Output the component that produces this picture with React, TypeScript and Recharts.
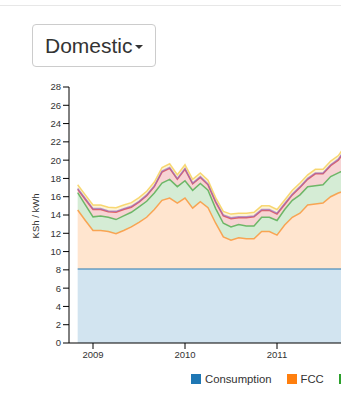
import { AreaChart, Area, XAxis, YAxis } from 'recharts';

// monthly tariff components, KSh per kWh (stacked)
const months = [
  '2008-11', '2008-12',
  '2009-01', '2009-02', '2009-03', '2009-04', '2009-05', '2009-06',
  '2009-07', '2009-08', '2009-09', '2009-10', '2009-11', '2009-12',
  '2010-01', '2010-02', '2010-03', '2010-04', '2010-05', '2010-06',
  '2010-07', '2010-08', '2010-09', '2010-10', '2010-11', '2010-12',
  '2011-01', '2011-02', '2011-03', '2011-04', '2011-05', '2011-06',
  '2011-07', '2011-08', '2011-09', '2011-10',
];

const consumption = [
  8.1, 8.1,
  8.1, 8.1, 8.1, 8.1, 8.1, 8.1, 8.1, 8.1, 8.1, 8.1, 8.1, 8.1,
  8.1, 8.1, 8.1, 8.1, 8.1, 8.1, 8.1, 8.1, 8.1, 8.1, 8.1, 8.1,
  8.1, 8.1, 8.1, 8.1, 8.1, 8.1, 8.1, 8.1, 8.1, 8.1,
];
const fcc = [
  6.45, 5.3,
  4.2, 4.2, 4.1, 3.85, 4.2, 4.6, 5.1, 5.65, 6.5, 7.5, 7.75, 7.2,
  7.75, 6.65, 7.35, 6.7, 5.0, 3.5, 3.15, 3.4, 3.3, 3.3, 4.1, 4.1,
  3.7, 4.8, 5.65, 6.1, 7.0, 7.1, 7.2, 7.9, 8.3, 8.6,
];
const ferfa = [
  1.9, 1.7,
  1.5, 1.6, 1.55, 1.55, 1.6, 1.6, 1.7, 1.75, 1.8, 1.9, 2.05, 1.8,
  1.9, 1.95, 2.0, 1.9, 1.6, 1.5, 1.45, 1.45, 1.4, 1.4, 1.55, 1.55,
  1.6, 1.7, 1.85, 2.0, 2.0, 2.0, 2.0, 2.2, 2.2, 2.3,
];
const inflation = [
  0.35, 0.6,
  0.8, 0.7, 0.6, 0.8, 0.7, 0.55, 0.5, 0.6, 0.7, 1.2, 1.2, 0.8,
  1.25, 0.7, 0.65, 0.6, 0.7, 0.8, 0.9, 0.75, 0.9, 1.0, 0.75, 0.75,
  0.7, 0.55, 0.6, 0.8, 0.8, 1.3, 1.2, 1.2, 1.4, 2.2,
];
const wrma = [
  0.1, 0.1,
  0.1, 0.1, 0.1, 0.1, 0.1, 0.1, 0.1, 0.1, 0.1, 0.1, 0.1, 0.1,
  0.1, 0.1, 0.1, 0.1, 0.1, 0.1, 0.1, 0.1, 0.1, 0.1, 0.1, 0.1,
  0.1, 0.1, 0.1, 0.1, 0.1, 0.1, 0.1, 0.1, 0.1, 0.1,
];
const ercLevy = [
  0.4, 0.4,
  0.4, 0.4, 0.4, 0.4, 0.4, 0.4, 0.4, 0.4, 0.4, 0.4, 0.4, 0.4,
  0.4, 0.4, 0.4, 0.4, 0.4, 0.4, 0.4, 0.4, 0.4, 0.4, 0.4, 0.4,
  0.4, 0.4, 0.4, 0.4, 0.4, 0.4, 0.4, 0.4, 0.4, 0.4,
];

const yTicks = [0, 2, 4, 6, 8, 10, 12, 14, 16, 18, 20, 22, 24, 26, 28];
const xTicks = [2009, 2010, 2011];

const series = [
  { key: 'consumption', name: 'Consumption', color: '#1f77b4', values: consumption },
  { key: 'fcc', name: 'FCC', color: '#ff7f0e', values: fcc },
  { key: 'ferfa', name: 'FERFA', color: '#2ca02c', values: ferfa },
  { key: 'inflation', name: 'Inflation', color: '#d62728', values: inflation },
  { key: 'wrma', name: 'WRMA', color: '#9467bd', values: wrma },
  { key: 'erc', name: 'ERC levy', color: '#f5c431', values: ercLevy },
];

const data = months.map((m, i) => {
  const [yr, mo] = m.split('-').map(Number);
  const row: any = { t: yr + (mo - 1) / 12 };
  series.forEach((s) => {
    row[s.key] = s.values[i];
  });
  return row;
});

// ~92px per year, plot starts a bit before the first month
const X_MIN = 2009 - 24 / 92;
const X_MAX = X_MIN + 331 / 92;

const font = '"Liberation Sans", Arial, Helvetica, sans-serif';

export default function App() {
  return (
    <div style={{ position: 'absolute', left: 0, top: 0, width: 341, height: 400, overflow: 'hidden', background: '#fff', fontFamily: font }}>
      <div style={{ position: 'absolute', left: 0, top: 5, width: 341, height: 1, background: '#e7e7e7' }} />

      <div
        style={{
          position: 'absolute', left: 32, top: 24, width: 124, height: 43, boxSizing: 'border-box',
          border: '1px solid #ccc', borderRadius: 4, display: 'flex', alignItems: 'center',
          paddingLeft: 12, fontSize: 21, color: '#333',
        }}
      >
        Domestic
        <span
          style={{
            display: 'inline-block', width: 0, height: 0, marginLeft: 2, marginTop: 3,
            borderTop: '4px solid #333', borderLeft: '4px solid transparent', borderRight: '4px solid transparent',
          }}
        />
      </div>

      <div
        style={{
          position: 'absolute', left: 35, top: 216, transform: 'translate(-50%, -50%) rotate(-90deg)',
          fontSize: 9.5, color: '#333', whiteSpace: 'nowrap',
        }}
      >
        KSh / kWh
      </div>

      <div style={{ position: 'absolute', left: 0, top: 0 }}>
        <AreaChart width={420} height={400} data={data} margin={{ top: 87, right: 20, bottom: 27, left: 9 }}>
          <XAxis
            dataKey="t"
            type="number"
            domain={[X_MIN, X_MAX]}
            allowDataOverflow
            ticks={xTicks}
            interval={0}
            tickFormatter={(v) => String(v)}
            tickSize={6}
            height={30}
            stroke="#000"
            tick={{ fontSize: 9.5, fill: '#333', fontFamily: font }}
          />
          <YAxis
            domain={[0, 28]}
            ticks={yTicks}
            interval={0}
            tickSize={6}
            width={60}
            stroke="#000"
            tick={{ fontSize: 9.5, fill: '#333', fontFamily: font }}
          />
          {/* fills first */}
          {series.map((s) => (
            <Area
              key={s.key + '-fill'}
              type="linear"
              dataKey={s.key}
              name={s.name}
              stackId="fill"
              stroke="none"
              fill={s.color}
              fillOpacity={0.2}
              dot={false}
              activeDot={false}
              isAnimationActive={false}
            />
          ))}
          {/* then the outlines on top */}
          {series.map((s) => (
            <Area
              key={s.key + '-line'}
              type="linear"
              dataKey={s.key}
              name={s.name}
              stackId="line"
              stroke={s.color}
              strokeWidth={1.5}
              strokeOpacity={0.65}
              fill="none"
              dot={false}
              activeDot={false}
              isAnimationActive={false}
            />
          ))}
        </AreaChart>
      </div>

      {/* legend */}
      <div style={{ position: 'absolute', left: 191, top: 373, display: 'flex', alignItems: 'center', whiteSpace: 'nowrap', fontSize: 11.3, color: '#333' }}>
        {series.map((s) => (
          <div key={s.key} style={{ display: 'flex', alignItems: 'center', marginRight: 15 }}>
            <span style={{ display: 'inline-block', width: 10, height: 10, background: s.color, marginRight: 4 }} />
            <span>{s.name}</span>
          </div>
        ))}
      </div>
    </div>
  );
}
